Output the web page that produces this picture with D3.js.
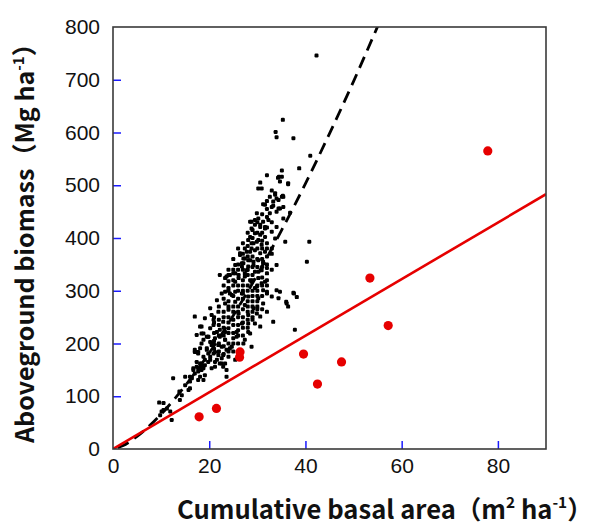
<!DOCTYPE html>
<html><head><meta charset="utf-8">
<script src="https://cdn.jsdelivr.net/npm/d3@7"></script>
<style>body{margin:0;background:#fff}</style>
</head><body>
<svg id="c" width="595" height="527"></svg>
<script>
const xTicks = [0,20,40,60,80];
const yTicks = [0,100,200,300,400,500,600,700,800];
const xTickMarks = [20,40,60,80];
const yTickMarks = [100,200,300,400,500,600,700];

// red series (points) and its fitted line
const redX = [17.9,21.5,26.3,26.4,39.6,42.5,47.5,53.4,57.2,77.9];
const redY = [61,77,174,184,180,123,165,324,234,565];
const redLine = [[0,0],[90,483]];

// dashed fit curve
const dashCurve = [[1,2.3],[2,6],[5,24],[10,66],[15,120],[20,182],[25,253],[30,330],[35,414],[40,503],[45,598],[50,697],[55,801],[56,822]];

// black points [x,y]
const blackPts = [
[42.3,746],[35.3,624],[33.8,601],[34.0,591],[37.5,589],[41,556],[38.7,532],[35.1,528],[32,519],[34.5,516],[36.4,502],[35.3,480],[36.8,448],[35.4,437],[35.8,393],[40.8,393],[40.3,355],[37.6,295],[38.2,288],[36,279],[36.4,270],[37.8,226],
[34.3,514],[34.7,507],[30.6,505],[30.9,494],[36.4,504],[33.7,485],[32.6,478],[34,475],[35.4,478],[31.2,464],[33.3,461],[34.4,456],
[30.2,494],[33.7,482],[34.4,472],[33.3,469],[31.6,463],[33,459],[34.7,456],[32.6,447],[34,450],[32,440],[30.2,437],[31.2,431],[32.3,434],[28.5,431],[29.5,425],[30.6,421],[28.8,418],[31.6,418],[33,412],[34,421],[33.7,399],[29.5,409],[30.6,406],[31.6,402],[28.1,396],[28.8,390],[29.9,393],[30.9,387],[27.4,380],[28.5,374],[29.5,377],[30.6,371],[31.6,374],[26.4,371],[27.1,361],[28.1,358],[29.2,355],[30.2,358],[31.2,352],[34.0,349],[25.4,349],[26.8,346],[27.8,339],[29.5,336],[30.9,339],[32.0,333],[24.0,330],[25.0,333],[26.1,324],[27.4,327],[28.8,317],[30.2,324],[31.6,317],
[29.9,447],[28.8,431],[29.5,434],[30.6,425],[31.6,421],[28.5,402],[29.2,390],[30.2,396],[27.8,374],[28.8,380],[26.4,368],[27.4,361],[28.5,358],[26.8,352],[28.1,346],[22.2,330],[23.3,324],[24.3,330],[25.4,333],[23.3,298],[24.3,295],[25.4,298],
[27.1,352],[29.2,349],[31.2,355],[32.0,343],[30.2,336],[27.4,333],[26.1,330],[23.6,327],[25.4,317],[28.5,320],[30.9,314],[29.5,305],[32.0,298],[24.0,305],[22.6,295],[24.7,292],[26.8,295],[28.1,289],[30.2,286],[31.2,276],[21.6,282],[23.3,276],[25.4,279],[27.4,273],[29.2,267],[20.2,267],[21.9,260],[24.0,264],[26.1,257],[28.1,254],[30.6,251],[19.1,248],[20.9,245],[22.9,241],[25.0,245],[26.8,238],[29.5,238],[18.1,232],[20.2,229],[22.2,226],[24.0,229],[25.7,222],[28.1,222],[17.4,216],[19.5,213],[21.2,210],[23.3,207],[25.0,210],[27.4,207],[18.4,200],[20.5,197],[22.6,194],[24.3,191],[28.8,194],[17.7,184],[19.8,181],[21.9,178],[24.0,175],[19.1,169],[21.2,165],[23.3,162],[25.4,169],[18.4,156],[20.5,153],
[9.8,64],[9.6,88],[10.5,74],[11.9,71],[12.2,55],[13.9,93],[14.3,102],[13.8,109],[15.7,112],[16,115],[12.5,134],[15,121],[16.0,128],[16.4,134],[17.0,143],[17.7,147],[18.4,150],[19.1,140],[18.8,131],[18.1,137],[17.4,156],[16.7,153],[17.4,165],[18.4,162],[19.1,159],[19.8,165],[20.2,175],[20.9,181],[21.6,169],[22.2,162],[22.6,172],[22.9,156],[23.6,150],[21.2,156],[18.8,175],[19.5,188],[18.1,191],[17.4,184],[18.8,207],[19.8,213],[20.9,200],[21.9,197],[22.2,213],[23.3,207],[23.6,188],[22.9,178],[18.4,219],[21.6,222],[23.3,222],
[17.0,251],[18.4,232],[18.8,219],[20.5,254],[20.9,235],[19.8,213],[20.2,203],[17.0,188],[17.7,181],[16.7,150],[17.7,153],[16.0,137],
[23.6,137],[15,137],[18.8,153],[17.7,131],[22.6,162],[33.3,241],[36.1,276],[34.4,286],[32,295],[33,289],[34,301],[29.9,308],[31.2,301],[29.9,257],[32,260],[28.1,238],[30.6,232],[25.7,213],[28.5,219],[27.1,200],[24.7,194],[21.2,184],[20.2,169],[18.1,162],[17.0,184],[19.5,191],[10.5,87],[11.2,77],[10.1,71],
[35.1,516],[35.1,478],[35.4,459],[34.7,298],[37.5,296],
[26,300],[27,310],[28,300],[29,320],[30,300],[27,285],[29,280],[30,290],[31,310],[26,270],[28,270],[30,270],[25,260],[27,250],[29,260],[31,265],[23,250],[24,240],[26,235],[28,245],[22,235],[24,220],[26,215],[25,200],[23,215],[21,220],[27,230],[29,245],[32,350],[33,370],[32,390],[31,380],[30,360],[29,365],[28,340],[26,340],[31,345],[27,320],[25,310],[24,318],
[21,190],[21,205],[21,240],[21,250],[22,185],[22,200],[22,215],[22,245],[22,270],[23,180],[23,195],[23,230],[23,260],[23,285],[23,310],
[24,185],[24,200],[24,250],[24,270],[24,280],[24,300],[24,340],[25,185],[25,220],[25,235],[25,270],[25,290],[25,320],[25,340],[25,360],
[26,200],[26,225],[26,250],[26,260],[26,285],[26,310],[26,350],[26,380],[27,215],[27,240],[27,265],[27,295],[27,300],[27,340],[27,370],[27,390],
[28,230],[28,260],[28,280],[28,310],[28,330],[28,365],[28,385],[28,410],[29,250],[29,270],[29,290],[29,300],[29,330],[29,345],[29,400],[29,415],
[30,265],[30,280],[30,310],[30,345],[30,380],[30,410],[30,430],[31,290],[31,325],[31,360],[31,395],[31,410],[31,445],
[32,310],[32,320],[32,365],[32,380],[32,420],[32,455],[32,470],[33,340],[33,380],[33,430],[33,490]
];

const svg = d3.select("#c");
const L=113, R=546, T=27, B=449;
const x = d3.scaleLinear().domain([0,90]).range([L,R]);
const y = d3.scaleLinear().domain([0,800]).range([B,T]);

svg.append("defs").append("clipPath").attr("id","clip")
  .append("rect").attr("x",L).attr("y",T).attr("width",R-L).attr("height",B-T);

const tickFont = "'Liberation Sans', Arial, sans-serif";

// tick labels
const gyl = svg.append("g").attr("transform",`translate(${L},0)`)
  .call(d3.axisLeft(y).tickValues(yTicks).tickSize(0).tickPadding(13).tickFormat(d3.format("d")));
gyl.select(".domain").remove();
gyl.selectAll("text").attr("font-family",tickFont).attr("font-size",21).attr("fill","#111");

const gxl = svg.append("g").attr("transform",`translate(0,${B})`)
  .call(d3.axisBottom(x).tickValues(xTicks).tickSize(0).tickPadding(9).tickFormat(d3.format("d")));
gxl.select(".domain").remove();
gxl.selectAll("text").attr("font-family",tickFont).attr("font-size",21).attr("fill","#111");

// blue inner tick marks
const gyt = svg.append("g").attr("transform",`translate(${L},0)`)
  .call(d3.axisRight(y).tickValues(yTickMarks).tickSize(8).tickFormat(""));
gyt.select(".domain").remove();
gyt.selectAll("text").remove();
gyt.selectAll("line").attr("stroke","#1a1aff").attr("stroke-width",1.5);
const gxt = svg.append("g").attr("transform",`translate(0,${B})`)
  .call(d3.axisTop(x).tickValues(xTickMarks).tickSize(8).tickFormat(""));
gxt.select(".domain").remove();
gxt.selectAll("text").remove();
gxt.selectAll("line").attr("stroke","#1a1aff").attr("stroke-width",1.5);

const plot = svg.append("g").attr("clip-path","url(#clip)");

// black points (small squares)
const s = 4;
plot.append("g").selectAll("rect").data(blackPts).join("rect")
  .attr("x",d=>x(d[0])-s/2).attr("y",d=>y(d[1])-s/2).attr("width",s).attr("height",s)
  .attr("rx",1.2).attr("fill","#000");

// dashed curve
const line = d3.line().x(d=>x(d[0])).y(d=>y(d[1])).curve(d3.curveMonotoneX);
plot.append("path").datum(dashCurve).attr("d",line)
  .attr("fill","none").attr("stroke","#000").attr("stroke-width",2.8).attr("stroke-dasharray","12,7");

// red line
plot.append("path").datum(redLine).attr("d",d3.line().x(d=>x(d[0])).y(d=>y(d[1])))
  .attr("fill","none").attr("stroke","#e60000").attr("stroke-width",2.6);

// red points
plot.append("g").selectAll("circle").data(redX.map((v,i)=>[v,redY[i]])).join("circle")
  .attr("cx",d=>x(d[0])).attr("cy",d=>y(d[1])).attr("r",4.6).attr("fill","#e60000");

// frame
svg.append("rect").attr("x",L).attr("y",T).attr("width",R-L).attr("height",B-T)
  .attr("fill","none").attr("stroke","#3a3a3a").attr("stroke-width",1.6);

// axis titles
const titleFont = "'Noto Sans CJK JP', 'Noto Sans', sans-serif";
function title(g, parts){
  const t = g.append("text").attr("font-family",titleFont).attr("font-weight","bold").attr("font-size",24).attr("fill","#111");
  parts.forEach(p=>{
    const ts = t.append("tspan").text(p.t);
    if(p.sup) ts.attr("font-size","0.6em").attr("baseline-shift","super");
  });
  return t;
}
const xt = title(svg.append("g"), [{t:"Cumulative basal area（m"},{t:"2",sup:1},{t:" ha"},{t:"-1",sup:1},{t:"）"}]);
{
  const w = xt.node().getComputedTextLength();
  const target = 416;
  xt.attr("font-size", 24*target/w).attr("x",177).attr("y",519);
}
const yg = svg.append("g");
const yt = title(yg, [{t:"Aboveground biomass（Mg ha"},{t:"-1",sup:1},{t:"）"}]);
{
  const w = yt.node().getComputedTextLength();
  const target = 412;
  yt.attr("font-size", 24*target/w).attr("x",0).attr("y",0);
  yg.attr("transform","translate(34,443) rotate(-90)");
}
</script>
</body></html>
